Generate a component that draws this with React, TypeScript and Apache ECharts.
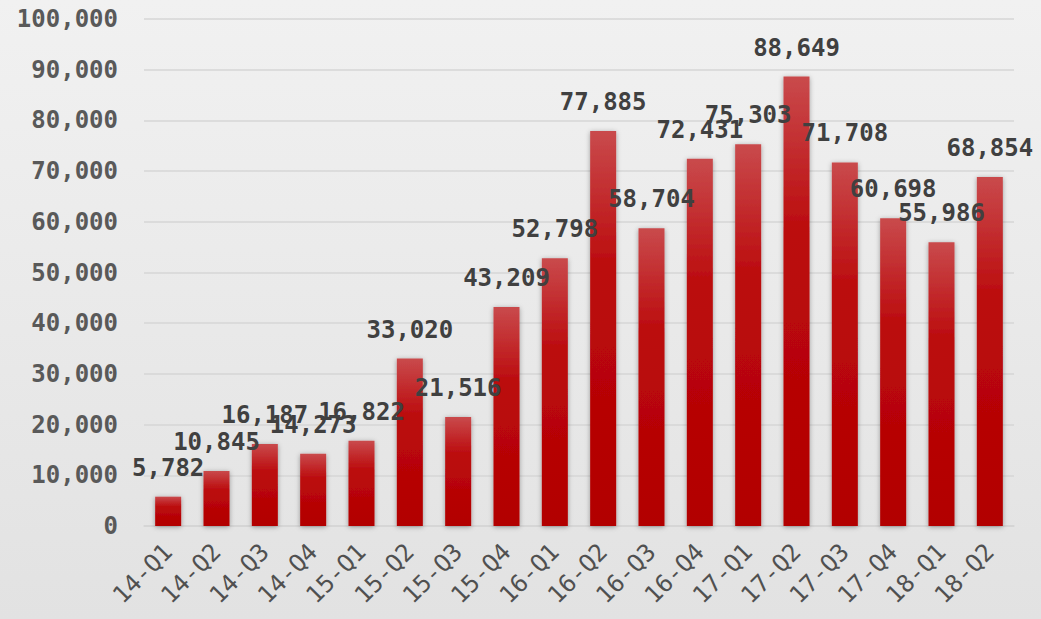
import React, { useEffect, useRef } from "react";
import * as echarts from "echarts";

const categories = ["14-Q1","14-Q2","14-Q3","14-Q4","15-Q1","15-Q2","15-Q3","15-Q4","16-Q1","16-Q2","16-Q3","16-Q4","17-Q1","17-Q2","17-Q3","17-Q4","18-Q1","18-Q2"];
const values = [5782,10845,16187,14273,16822,33020,21516,43209,52798,77885,58704,72431,75303,88649,71708,60698,55986,68854];

const FONT = "'DejaVu Sans Mono', monospace";

export default function App() {
  const ref = useRef<HTMLDivElement>(null);
  useEffect(() => {
    const chart = echarts.init(ref.current!, null, { renderer: "svg" });
    chart.setOption({
      animation: false,
      backgroundColor: new echarts.graphic.LinearGradient(0, 0, 0, 1, [
        { offset: 0, color: "#f1f1f1" },
        { offset: 1, color: "#e2e2e2" },
      ]),
      grid: { left: 144, right: 27, top: 19, bottom: 93, containLabel: false },
      xAxis: {
        type: "category",
        data: categories,
        axisLine: { show: true, lineStyle: { color: "#d4d4d4", width: 1.5 } },
        axisTick: { show: false },
        axisLabel: {
          rotate: 45,
          interval: 0,
          margin: 22,
          color: "#505050",
          fontFamily: FONT,
          fontSize: 24,
          fontWeight: "normal",
        },
      },
      yAxis: {
        type: "value",
        min: 0,
        max: 100000,
        interval: 10000,
        axisLine: { show: false },
        axisTick: { show: false },
        splitLine: { lineStyle: { color: "#d6d6d6", width: 1.5 } },
        axisLabel: {
          margin: 26,
          color: "#595959",
          fontFamily: FONT,
          fontSize: 24,
          fontWeight: "bold",
          formatter: (v: number) => v.toLocaleString("en-US"),
        },
      },
      series: [
        {
          type: "bar",
          data: values,
          barWidth: 26,
          itemStyle: {
            color: new echarts.graphic.LinearGradient(0, 0, 0, 1, [
              { offset: 0, color: "#c94a4c" },
              { offset: 0.35, color: "#bb0a0c" },
              { offset: 1, color: "#b20000" },
            ]),
            shadowBlur: 5,
            shadowColor: "rgba(0,0,0,0.35)",
            shadowOffsetY: 1,
          },
          label: {
            show: true,
            position: "top",
            distance: 17,
            color: "#404040",
            fontFamily: FONT,
            fontSize: 24,
            fontWeight: "bold",
            formatter: (p: any) => Number(p.value).toLocaleString("en-US"),
          },
        },
      ],
    });
    return () => chart.dispose();
  }, []);
  return <div ref={ref} style={{ position: "fixed", left: 0, top: 0, width: 1041, height: 619 }} />;
}
